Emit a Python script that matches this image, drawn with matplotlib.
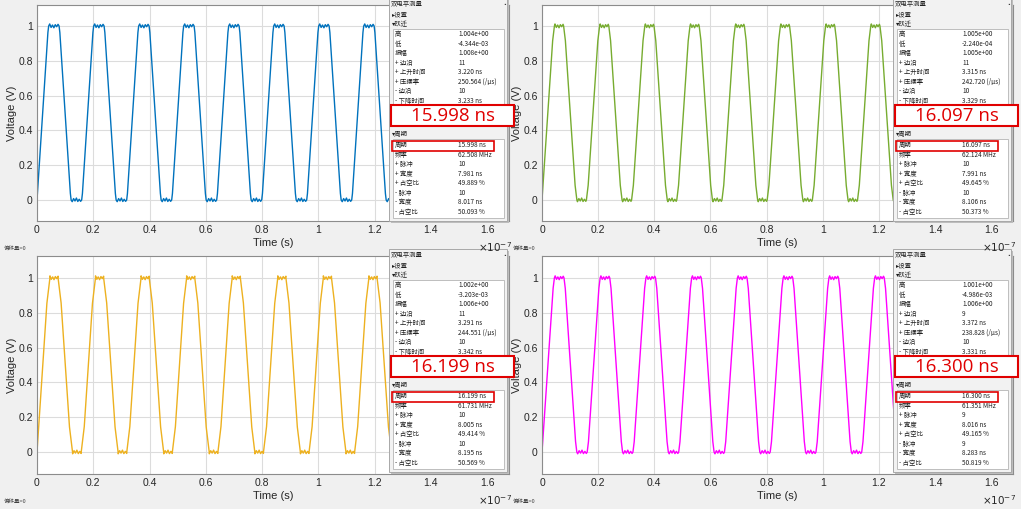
import matplotlib
matplotlib.use("Agg")
import matplotlib.pyplot as plt
from matplotlib.patches import Rectangle
from matplotlib.ticker import FixedLocator, FuncFormatter

plt.rcParams['font.family'] = ['Liberation Sans', 'DejaVu Sans']

W, H = 1021, 509

# ---------------- data ----------------
colors = ['#0072BD', '#77AC30', '#EDB120', '#FF00FF']

# start time of every rising edge (ns)
blue_rise_ns = [0.0, 16.0, 32.0, 48.0, 64.0, 80.0, 96.0, 112.0, 128.0, 144.0, 160.0]
green_rise_ns = [0.0, 16.1, 32.2, 48.3, 64.4, 80.5, 96.6, 112.7, 128.8, 144.9, 161.0]
yellow_rise_ns = [0.0, 16.2, 32.4, 48.6, 64.8, 81.0, 97.2, 113.4, 129.6, 145.8, 162.0]
magenta_rise_ns = [0.0, 16.3, 32.6, 48.9, 65.2, 81.5, 97.8, 114.1, 130.4, 146.7, 163.0]

rise_10_90_ns = [3.220, 3.315, 3.291, 3.372]
fall_10_90_ns = [3.233, 3.329, 3.342, 3.331]
pos_width_ns = [7.981, 7.991, 8.005, 8.016]
corner_round_ns = [0.15, 0.35, 0.6, 0.25]

# small ripple on the plateaus (V)
high_ripple = [0.012, -0.008, 0.006, -0.010, 0.008, -0.004, 0.010]
low_ripple = [-0.010, 0.008, -0.006, 0.011, -0.009, 0.004, -0.008]

xticks = [0, 0.2, 0.4, 0.6, 0.8, 1.0, 1.2, 1.4, 1.6]
yticks = [0, 0.2, 0.4, 0.6, 0.8, 1.0]

row_labels_1 = ['高', '低', '振幅', '+ 边沿', '+ 上升时间', '+ 压摆率', '- 边沿', '- 下降时间']
row_labels_2 = ['周期', '频率', '+ 脉冲', '+ 宽度', '+ 占空比', '- 脉冲', '- 宽度', '- 占空比']

tl_vals_1 = ['1.004e+00', '-4.344e-03', '1.008e+00', '11', '3.220 ns', '250.564 (/μs)', '10', '3.233 ns']
tl_vals_2 = ['15.998 ns', '62.508 MHz', '10', '7.981 ns', '49.889 %', '10', '8.017 ns', '50.093 %']
tr_vals_1 = ['1.005e+00', '-2.240e-04', '1.005e+00', '11', '3.315 ns', '242.720 (/μs)', '10', '3.329 ns']
tr_vals_2 = ['16.097 ns', '62.124 MHz', '10', '7.991 ns', '49.645 %', '10', '8.106 ns', '50.373 %']
bl_vals_1 = ['1.002e+00', '-3.203e-03', '1.006e+00', '11', '3.291 ns', '244.551 (/μs)', '10', '3.342 ns']
bl_vals_2 = ['16.199 ns', '61.731 MHz', '10', '8.005 ns', '49.414 %', '10', '8.195 ns', '50.569 %']
br_vals_1 = ['1.001e+00', '-4.986e-03', '1.006e+00', '9', '3.372 ns', '238.828 (/μs)', '10', '3.331 ns']
br_vals_2 = ['16.300 ns', '61.351 MHz', '9', '8.016 ns', '49.165 %', '9', '8.283 ns', '50.819 %']
big_labels = ['15.998 ns', '16.097 ns', '16.199 ns', '16.300 ns']


def waveform(rises, tr, tf, wpos, c):
    ts, vs = [], []
    n_r = len(high_ripple)
    for k, r in enumerate(rises):
        full_r = tr / 0.8
        full_f = tf / 0.8
        t_top = r + full_r
        t_fs = r + full_r / 2 + wpos - full_f / 2
        t_bot = t_fs + full_f
        if k == 0:
            ts.append(r); vs.append(0.0)
        else:
            ts += [r - c * 0.8, r + c]
            vs += [0.0, c / full_r]
        ts += [t_top - c, t_top + c * 0.8]
        vs += [1.0 - c / full_r, 1.0]
        for i, d in enumerate(high_ripple):
            ts.append(t_top + (t_fs - t_top) * (i + 1) / (n_r + 1))
            vs.append(1.0 + d)
        ts += [t_fs - c * 0.8, t_fs + c, t_bot - c, t_bot + c * 0.8]
        vs += [1.0, 1.0 - c / full_f, c / full_f, 0.0]
        if k + 1 < len(rises):
            nxt = rises[k + 1]
            for i, d in enumerate(low_ripple):
                ts.append(t_bot + (nxt - t_bot) * (i + 1) / (n_r + 1))
                vs.append(d)
    return [t * 1e-9 for t in ts], vs


fig = plt.figure(figsize=(W / 100, H / 100), dpi=100, facecolor='#f0f0f0')

ax_px = [(37, 5, 509, 221), (542, 5, 1013, 221), (37, 256, 509, 474), (542, 256, 1013, 474)]
rises_all = [blue_rise_ns, green_rise_ns, yellow_rise_ns, magenta_rise_ns]
ylims = [(-0.121, 1.121), (-0.121, 1.121), (-0.126, 1.126), (-0.126, 1.126)]

for i, (x0, y0, x1, y1) in enumerate(ax_px):
    ax = fig.add_axes([x0 / W, 1 - y1 / H, (x1 - x0) / W, (y1 - y0) / H])
    t, v = waveform(rises_all[i], rise_10_90_ns[i], fall_10_90_ns[i], pos_width_ns[i], corner_round_ns[i])
    ax.plot(t, v, color=colors[i], lw=1.0)
    ax.set_xlim(0, 1.678e-7)
    ax.set_ylim(*ylims[i])
    ax.xaxis.set_major_locator(FixedLocator([x * 1e-7 for x in xticks]))
    ax.xaxis.set_major_formatter(FuncFormatter(lambda x, p: f"{x / 1e-7:g}"))
    ax.yaxis.set_major_locator(FixedLocator(yticks))
    ax.yaxis.set_major_formatter(FuncFormatter(lambda y, p: f"{y:g}"))
    ax.grid(True, color='#dcdcdc', lw=0.8)
    ax.set_axisbelow(True)
    for s in ax.spines.values():
        s.set_color('#8c8c8c')
        s.set_linewidth(0.8)
    ax.tick_params(length=0, labelsize=7.5, labelcolor='#262626', pad=3)
    ax.set_xlabel('Time (s)', fontsize=8, color='#262626', labelpad=2)
    ax.set_ylabel('Voltage (V)', fontsize=8, color='#262626', labelpad=1)

# overlay for panels and annotations
ov = fig.add_axes([0, 0, 1, 1], zorder=10)
ov.set_xlim(0, W)
ov.set_ylim(H, 0)
ov.axis('off')
ov.patch.set_alpha(0)

cjk = ['Noto Sans CJK SC', 'DejaVu Sans']

for (x0, y0, x1, y1) in ax_px:
    ov.text(x1 - 14, y1 + 26, r'$\times10^{-7}$', fontsize=7.5, color='#262626',
            ha='center', va='center', family=['Liberation Sans', 'DejaVu Sans'])
    ov.text(x0 - 33 if x0 < 100 else x0 - 29, y1 + 27, '偏移量=0', fontsize=4, color='#404040',
            ha='left', va='center', family=cjk)

panel_offsets = [(0, 0), (504, 0), (0, 251), (504, 251)]
panel_vals = [(tl_vals_1, tl_vals_2), (tr_vals_1, tr_vals_2), (bl_vals_1, bl_vals_2), (br_vals_1, br_vals_2)]

for p, (dx, dy) in enumerate(panel_offsets):
    v1, v2 = panel_vals[p]
    # shadow + frame
    ov.add_patch(Rectangle((391 + dx, 0 + dy), 118, 223, fc='#bdbdbd', ec='none'))
    ov.add_patch(Rectangle((389 + dx, -2 + dy), 118, 223, fc='#f2f2f2', ec='#a8a8a8', lw=0.7))
    ov.text(391 + dx, 3.5 + dy, '双电平测量', fontsize=4.6, family=cjk, va='center', color='#202020')
    ov.text(502 + dx, 4 + dy, '▪', fontsize=3.5, family=cjk, va='center', color='#404040')
    ov.text(392 + dx, 14 + dy, '▸设置', fontsize=4.6, family=cjk, va='center', color='#202020')
    ov.text(392 + dx, 24 + dy, '▾跃迁', fontsize=4.6, family=cjk, va='center', color='#202020')
    ov.add_patch(Rectangle((393 + dx, 29 + dy), 111, 80, fc='white', ec='#b4b4b4', lw=0.6))
    for i, (lab, val) in enumerate(zip(row_labels_1, v1)):
        yy = 34.3 + i * 9.5 + dy
        ov.text(395 + dx, yy, lab, fontsize=4.6, family=cjk, va='center', color='#202020')
        ov.text(458 + dx, yy, val, fontsize=4.6, family=cjk, va='center', color='#202020')
    ov.text(392 + dx, 134 + dy, '▾周期', fontsize=4.6, family=cjk, va='center', color='#202020')
    ov.add_patch(Rectangle((393 + dx, 139 + dy), 111, 79, fc='white', ec='#b4b4b4', lw=0.6))
    for i, (lab, val) in enumerate(zip(row_labels_2, v2)):
        yy = 145.3 + i * 9.5 + dy
        ov.text(395 + dx, yy, lab, fontsize=4.6, family=cjk, va='center', color='#202020')
        ov.text(458 + dx, yy, val, fontsize=4.6, family=cjk, va='center', color='#202020')
    ov.add_patch(Rectangle((392 + dx, 141 + dy), 102, 9.5, fc='none', ec='#e00000', lw=1.2))
    ov.add_patch(Rectangle((391 + dx, 105 + dy), 123, 21, fc='white', ec='#e00000', lw=1.5))
    ov.text(452.5 + dx, 115.5 + dy, big_labels[p], fontsize=13.5, color='#e00000',
            ha='center', va='center', family=['Open Sans', 'DejaVu Sans'])

fig.savefig('out.png', dpi=100, facecolor=fig.get_facecolor())
